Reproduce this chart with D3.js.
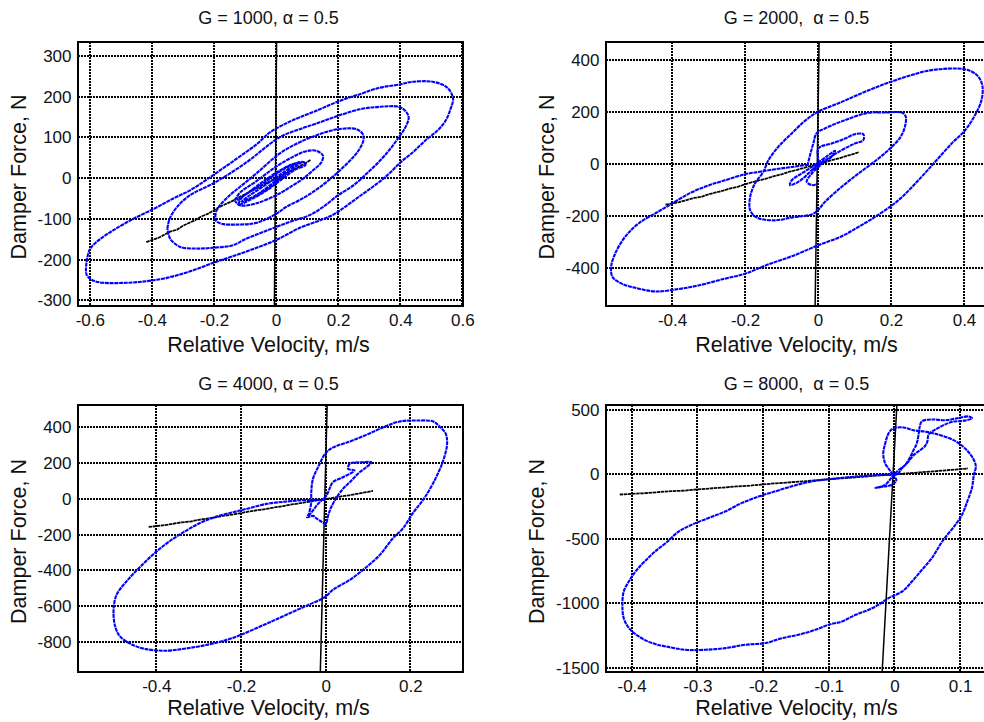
<!DOCTYPE html>
<html>
<head>
<meta charset="utf-8">
<script src="https://cdn.jsdelivr.net/npm/d3@7"></script>
<style>
  body { margin: 0; background: #ffffff; }
  svg { display: block; font-family: "Liberation Sans", Arial, sans-serif; }
</style>
</head>
<body>
<svg id="chart" width="984" height="722"></svg>
<script>
// ---------- data ----------
const titles = ["G = 1000, \u03b1 = 0.5", "G = 2000,  \u03b1 = 0.5", "G = 4000, \u03b1 = 0.5", "G = 8000,  \u03b1 = 0.5"];
const xLabel = "Relative Velocity, m/s";
const yLabel = "Damper Force, N";

// axis ranges and tick values for each panel
const xDomains = [[-0.638, 0.602], [-0.581, 0.474], [-0.585, 0.3245], [-0.439, 0.147]];
const yDomains = [[-314, 334], [-546, 468], [-968, 525], [-1531, 536]];
const xTicks = [[-0.6, -0.4, -0.2, 0, 0.2, 0.4, 0.6], [-0.4, -0.2, 0, 0.2, 0.4], [-0.4, -0.2, 0, 0.2], [-0.4, -0.3, -0.2, -0.1, 0, 0.1]];
const yTicks = [[-300, -200, -100, 0, 100, 200, 300], [-400, -200, 0, 200, 400], [-800, -600, -400, -200, 0, 200, 400], [-1500, -1000, -500, 0, 500]];

// passive reference curve (black), shared by all panels: [velocity, force]
const passiveCurve = [[-0.418,-157],[-0.40,-152],[-0.38,-147],[-0.36,-139],[-0.34,-131],[-0.32,-127],[-0.30,-117],[-0.28,-110],[-0.26,-103],[-0.24,-94],[-0.22,-88],[-0.20,-79],[-0.18,-70],[-0.16,-63],[-0.14,-56],[-0.12,-47],[-0.10,-40],[-0.08,-31],[-0.06,-24],[-0.04,-16],[-0.02,-8],[0,-1],[0.02,7],[0.04,15],[0.06,22],[0.08,31],[0.10,39],[0.112,45]];
// near-vertical stiff reference line (black)
const stiffLine = [[-0.019, -1560], [0.004, 560]];

// G = 1000 damper response loops: [velocity, force]
const g1000LoopA = [[-0.612,-217],[-0.600,-175],[-0.567,-150],[-0.524,-128],[-0.460,-100],[-0.395,-76],[-0.331,-50],[-0.277,-30],[-0.224,-4],[-0.171,24],[-0.117,53],[-0.064,82],[-0.020,112],[0.034,135],[0.076,149],[0.141,169],[0.200,188],[0.270,206],[0.335,222],[0.400,230],[0.435,236],[0.508,236],[0.551,222],[0.570,196],[0.562,170],[0.546,141],[0.519,116],[0.486,96],[0.443,65],[0.400,38],[0.357,6],[0.314,-20],[0.270,-44],[0.227,-68],[0.184,-90],[0.140,-104],[0.077,-122],[0,-152],[-0.073,-174],[-0.137,-191],[-0.202,-208],[-0.277,-229],[-0.352,-245],[-0.417,-253],[-0.481,-257],[-0.556,-257],[-0.588,-252],[-0.610,-238],[-0.612,-217]];
const g1000LoopB = [[-0.350,-124],[-0.343,-100],[-0.318,-70],[-0.277,-42],[-0.200,-12],[-0.100,36],[0.011,100],[0.076,120],[0.141,137],[0.200,153],[0.270,169],[0.335,175],[0.395,175],[0.416,165],[0.427,149],[0.416,124],[0.395,100],[0.368,72],[0.335,43],[0.292,11],[0.249,-18],[0.200,-42],[0.151,-71],[0.108,-91],[0.054,-105],[0,-120],[-0.050,-135],[-0.100,-150],[-0.139,-165],[-0.203,-171],[-0.256,-173],[-0.309,-169],[-0.341,-149],[-0.350,-124]];
const g1000LoopC = [[-0.194,-83],[-0.181,-67],[-0.149,-42],[-0.117,-22],[-0.064,11],[0.011,60],[0.076,88],[0.141,108],[0.200,120],[0.259,120],[0.279,108],[0.281,92],[0.265,67],[0.238,43],[0.200,15],[0.162,-10],[0.119,-34],[0.076,-54],[0.032,-71],[0,-88],[-0.064,-110],[-0.117,-114],[-0.176,-112],[-0.194,-104],[-0.194,-83]];
const g1000LoopD = [[-0.133,-55],[-0.117,-36],[-0.064,-8],[0,28],[0.054,52],[0.097,66],[0.130,67],[0.151,55],[0.146,39],[0.119,19],[0.086,-2],[0.054,-18],[0.011,-38],[-0.064,-62],[-0.117,-67],[-0.133,-55]];
const g1000Core = [[-0.125,-55],[-0.08,-30],[-0.03,-2],[0.02,22],[0.06,36],[0.09,39],[0.095,33],[0.06,20],[0.02,-2],[-0.03,-30],[-0.08,-52],[-0.12,-65],[-0.11,-48],[-0.05,-18],[0.0,10],[0.05,32],[0.08,38],[0.05,22],[0.0,-6],[-0.06,-40],[-0.11,-58],[-0.09,-45],[-0.04,-20],[0.02,12],[0.07,37],[0.03,10],[-0.03,-28],[-0.09,-52]];

// G = 2000 damper response
const g2000Outer = [[-0.026,-3],[-0.072,-12],[-0.118,-21],[-0.163,-31],[-0.200,-40],[-0.255,-63],[-0.300,-83],[-0.346,-109],[-0.401,-153],[-0.437,-183],[-0.492,-229],[-0.529,-281],[-0.556,-345],[-0.567,-396],[-0.563,-435],[-0.538,-460],[-0.501,-476],[-0.447,-490],[-0.383,-481],[-0.328,-467],[-0.255,-441],[-0.200,-422],[-0.136,-386],[-0.072,-355],[0,-313],[0.065,-278],[0.111,-242],[0.156,-204],[0.220,-140],[0.275,-63],[0.321,8],[0.366,78],[0.403,129],[0.430,187],[0.448,245],[0.450,303],[0.435,341],[0.403,363],[0.311,360],[0.247,337],[0.193,312],[0.129,277],[0.065,238],[0,200],[-0.036,165],[-0.072,117],[-0.109,65],[-0.136,14],[-0.150,-31],[-0.173,-76],[-0.186,-127],[-0.186,-178],[-0.168,-206],[-0.118,-217],[-0.072,-206],[-0.017,-194],[0,-178],[0.019,-146],[0.065,-88],[0.111,-37],[0.156,10],[0.193,53],[0.225,101],[0.238,142],[0.240,183],[0.229,197],[0.184,197],[0.138,196],[0.074,168],[0.019,136],[-0.004,117],[-0.013,78],[-0.022,33],[-0.028,-1]];
const g2000Inner = [[-0.017,-24],[0,1],[0.001,59],[0.037,78],[0.074,97],[0.101,114],[0.124,114],[0.124,91],[0.101,78],[0.065,53],[0.028,21],[0.005,-1],[-0.017,-24],[-0.036,-50],[-0.054,-69],[-0.077,-82],[-0.072,-63],[-0.045,-37],[-0.017,-12],[0.010,14],[0.028,33],[0.047,50],[0.037,27],[0.010,-1],[-0.017,-37],[-0.031,-69],[-0.013,-82],[0.001,-73]];

// G = 4000 damper response
const g4000Trace = [[-0.002,-6],[-0.046,-6],[-0.093,-15],[-0.140,-28],[-0.187,-56],[-0.219,-75],[-0.258,-99],[-0.298,-136],[-0.329,-177],[-0.361,-224],[-0.400,-295],[-0.439,-382],[-0.471,-463],[-0.494,-537],[-0.501,-621],[-0.497,-715],[-0.485,-771],[-0.455,-817],[-0.424,-840],[-0.376,-849],[-0.329,-836],[-0.282,-817],[-0.235,-789],[-0.203,-763],[-0.156,-715],[-0.117,-674],[-0.077,-631],[-0.038,-590],[-0.002,-550],[0.017,-509],[0.057,-453],[0.096,-382],[0.128,-313],[0.159,-220],[0.183,-164],[0.206,-80],[0.230,-6],[0.254,88],[0.277,209],[0.287,312],[0.283,368],[0.269,405],[0.254,433],[0.214,438],[0.175,433],[0.135,399],[0.096,358],[0.057,321],[0.017,287],[0,256],[-0.018,177],[-0.030,112],[-0.034,37],[-0.034,-19],[-0.040,-85],[-0.044,-103],[-0.030,-95],[-0.020,-112],[-0.008,-130],[0,-140],[0.006,-93],[0.013,-47],[0.029,19],[0.041,56],[0.057,93],[0.076,140],[0.096,177],[0.108,205],[0.088,205],[0.057,196],[0.053,168],[0.068,159],[0.041,121],[0.017,93],[0.009,56],[0.002,19],[-0.006,0],[-0.018,-28],[-0.030,-65],[-0.040,-95]];

// G = 8000 damper response
const g8000Outer = [[-0.005,-5],[-0.014,-3],[-0.054,-16],[-0.105,-41],[-0.130,-59],[-0.156,-93],[-0.181,-132],[-0.206,-171],[-0.232,-222],[-0.257,-287],[-0.283,-339],[-0.308,-390],[-0.328,-442],[-0.348,-532],[-0.364,-597],[-0.379,-669],[-0.394,-752],[-0.404,-829],[-0.412,-907],[-0.414,-1023],[-0.412,-1114],[-0.404,-1191],[-0.389,-1256],[-0.369,-1307],[-0.348,-1333],[-0.318,-1359],[-0.288,-1359],[-0.257,-1346],[-0.227,-1320],[-0.196,-1307],[-0.171,-1269],[-0.146,-1243],[-0.120,-1204],[-0.100,-1165],[-0.080,-1140],[-0.059,-1088],[-0.039,-1049],[-0.024,-1010],[-0.009,-959],[0.012,-907],[0.027,-829],[0.042,-739],[0.057,-649],[0.073,-519],[0.093,-390],[0.103,-313],[0.111,-209],[0.118,-106],[0.121,-3],[0.124,60],[0.120,120],[0.113,170],[0.105,212],[0.090,264],[0.070,302],[0.049,328],[0.029,341],[0.014,362],[-0.002,354],[-0.009,315],[-0.014,238],[-0.017,160],[-0.014,83],[-0.007,31],[-0.002,-8]];
const g8000Inner = [[-0.002,-8],[0.006,5],[0.011,44],[0.021,96],[0.029,147],[0.039,186],[0.046,215],[0.050,250],[0.052,307],[0.062,345],[0.075,380],[0.088,406],[0.105,414],[0.118,432],[0.113,447],[0.098,436],[0.078,418],[0.057,424],[0.042,411],[0.039,380],[0.037,315],[0.034,238],[0.029,186],[0.024,134],[0.016,70],[0.006,31],[-0.002,-10],[-0.008,-50],[-0.015,-85],[-0.029,-106],[-0.015,-95],[-0.003,-80],[0.003,-45],[-0.002,-8]];

const responses = [
  [g1000LoopA, g1000LoopB, g1000LoopC, g1000LoopD, g1000Core],
  [g2000Outer, g2000Inner],
  [g4000Trace],
  [g8000Outer, g8000Inner]
];

// ---------- layout ----------
const W = 984, H = 722;
const boxes = [
  { left: 78, top: 42, width: 385, height: 264, yLabelGap: 52, titleGap: 18, xLabelGap: 46.3 },
  { left: 606, top: 42, width: 385, height: 264, yLabelGap: 52, titleGap: 18, xLabelGap: 46.3 },
  { left: 78, top: 405, width: 385, height: 267, yLabelGap: 52, titleGap: 15, xLabelGap: 43 },
  { left: 606, top: 405, width: 385, height: 267, yLabelGap: 62, titleGap: 15, xLabelGap: 43 }
];
const FONT = "Liberation Sans, Arial, sans-serif";

const svg = d3.select("#chart");
svg.append("rect").attr("width", W).attr("height", H).attr("fill", "#ffffff");

const fmtTick = v => (Math.abs(v) < 1e-9 ? "0" : String(Math.round(v * 10) / 10));

boxes.forEach((b, i) => {
  const x = d3.scaleLinear().domain(xDomains[i]).range([b.left, b.left + b.width]);
  const y = d3.scaleLinear().domain(yDomains[i]).range([b.top + b.height, b.top]);
  const g = svg.append("g");

  const clipId = "clip" + i;
  svg.append("clipPath").attr("id", clipId)
    .append("rect").attr("x", b.left).attr("y", b.top).attr("width", b.width).attr("height", b.height);

  // dotted grid, snapped to whole pixels so the dots stay crisp
  const grid = g.append("g").attr("stroke", "#000").attr("stroke-width", 2)
    .attr("stroke-dasharray", "2,1").attr("shape-rendering", "crispEdges");
  grid.selectAll("line.v").data(xTicks[i]).join("line").attr("class", "v")
    .attr("x1", d => Math.round(x(d))).attr("x2", d => Math.round(x(d)))
    .attr("y1", b.top).attr("y2", b.top + b.height);
  grid.selectAll("line.h").data(yTicks[i]).join("line").attr("class", "h")
    .attr("y1", d => Math.round(y(d))).attr("y2", d => Math.round(y(d)))
    .attr("x1", b.left).attr("x2", b.left + b.width);

  // axes (labels only)
  const xa = g.append("g").attr("transform", `translate(0,${b.top + b.height})`)
    .call(d3.axisBottom(x).tickValues(xTicks[i]).tickSize(0).tickPadding(8).tickFormat(fmtTick));
  const ya = g.append("g").attr("transform", `translate(${b.left},0)`)
    .call(d3.axisLeft(y).tickValues(yTicks[i]).tickSize(0).tickPadding(6.5).tickFormat(fmtTick));
  [xa, ya].forEach(a => {
    a.select(".domain").remove();
    a.selectAll("text").attr("font-family", FONT).attr("font-size", 17).attr("fill", "#111");
  });

  const plot = g.append("g").attr("clip-path", `url(#${clipId})`);
  const line = d3.line().x(d => x(d[0])).y(d => y(d[1]));
  const smooth = d3.line().x(d => x(d[0])).y(d => y(d[1])).curve(d3.curveCatmullRom.alpha(0.5));

  // stiff reference line
  plot.append("path").datum(stiffLine).attr("d", line)
    .attr("fill", "none").attr("stroke", "#000").attr("stroke-width", 1.5);
  // passive curve
  plot.append("path").datum(passiveCurve).attr("d", line)
    .attr("fill", "none").attr("stroke", "#000").attr("stroke-width", 1.8).attr("stroke-dasharray", "3.5,0.6");
  // damper response
  plot.selectAll("path.resp").data(responses[i]).join("path").attr("class", "resp")
    .attr("d", smooth).attr("fill", "none").attr("stroke", "#0000ff")
    .attr("stroke-width", 2.1).attr("stroke-dasharray", "4,0.7").attr("stroke-linejoin", "round");

  // frame
  g.append("rect").attr("x", b.left).attr("y", b.top).attr("width", b.width).attr("height", b.height)
    .attr("fill", "none").attr("stroke", "#000").attr("stroke-width", 2.4).attr("shape-rendering", "crispEdges");

  // titles and axis labels
  const cx = b.left + b.width / 2 - 2;
  g.append("text").attr("x", cx).attr("y", b.top - b.titleGap)
    .attr("text-anchor", "middle").attr("font-family", FONT).attr("font-size", 18).attr("fill", "#111")
    .style("white-space", "pre").text(titles[i]);
  g.append("text").attr("x", cx).attr("y", b.top + b.height + b.xLabelGap)
    .attr("text-anchor", "middle").attr("font-family", FONT).attr("font-size", 21.5).attr("fill", "#111").text(xLabel);
  g.append("text")
    .attr("transform", `translate(${b.left - b.yLabelGap},${b.top + b.height / 2 + 3}) rotate(-90)`)
    .attr("text-anchor", "middle").attr("font-family", FONT).attr("font-size", 21.5).attr("fill", "#111").text(yLabel);
});
</script>
</body>
</html>
